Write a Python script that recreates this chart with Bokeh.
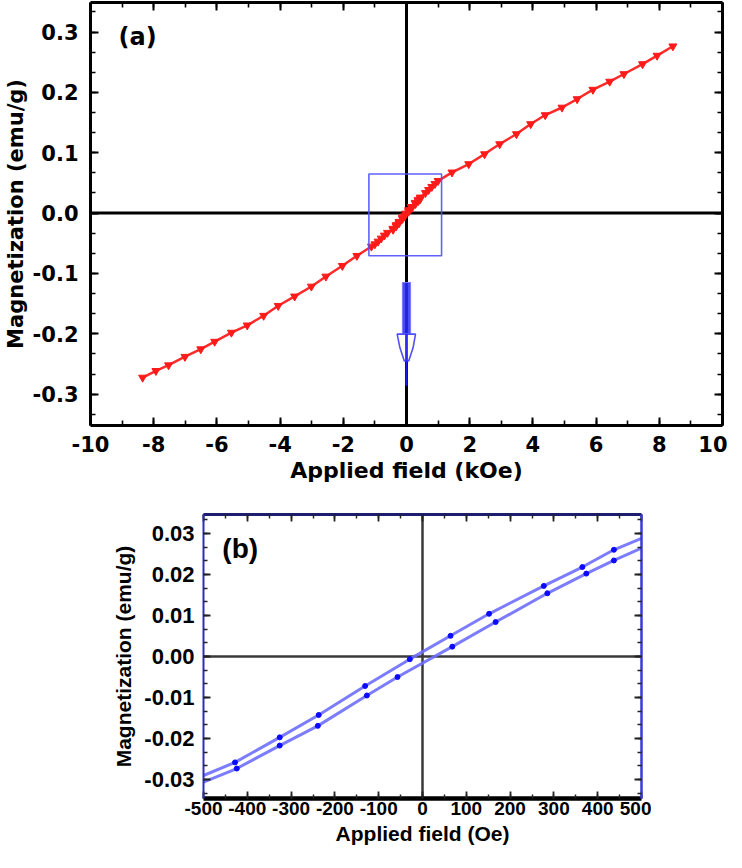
from bokeh.plotting import figure
from bokeh.models import (LinearAxis, FixedTicker, PrintfTickFormatter, Span,
                          BoxAnnotation, PolyAnnotation, Range1d, Label, Spacer)
from bokeh.layouts import column, row
from bokeh.embed import file_html
from bokeh.resources import INLINE

# ---------------- data: panel (a), field in kOe, magnetization in emu/g ----------------
H_a_neg = [-8.35, -7.93, -7.53, -7.01, -6.51, -6.07, -5.54, -5.04, -4.52, -4.06,
           -3.54, -3.01, -2.55, -2.03, -1.57, -1.11]
M_a_neg = [-0.2725, -0.2614, -0.2520, -0.2380, -0.2255, -0.2130, -0.1980, -0.1860,
           -0.1700, -0.1536, -0.1380, -0.1216, -0.1050, -0.0873, -0.0707, -0.0553]
H_a_pos = [1.44, 1.97, 2.47, 2.95, 3.48, 3.93, 4.39, 4.92, 5.40, 5.90, 6.43, 6.88,
           7.47, 7.93, 8.43]
M_a_pos = [0.0675, 0.0813, 0.0978, 0.1144, 0.1310, 0.1476, 0.1625, 0.1750, 0.1890,
           0.2046, 0.2180, 0.2305, 0.2470, 0.2610, 0.2765]
H_a_mid = [-1.0, -0.9, -0.8, -0.7, -0.6, 0.6, 0.7, 0.8, 0.9, 1.0]
M_a_mid = [-0.0515, -0.0470, -0.0420, -0.0370, -0.0325, 0.0335, 0.0385, 0.0435,
           0.0485, 0.0535]

# ---------------- data: panel (b), field in Oe ----------------
H_b_upper = [-500, -428, -326, -237, -131, -29, 64, 152, 277, 365, 437, 500]
M_b_upper = [-0.0290, -0.0258, -0.0197, -0.01425, -0.0072, -0.00065, 0.00504,
             0.0104, 0.0172, 0.0218, 0.0260, 0.0288]
H_b_lower = [-500, -424, -326, -239, -127, -57, 68, 167, 285, 374, 437, 500]
M_b_lower = [-0.0306, -0.0273, -0.0217, -0.0169, -0.0095, -0.0050, 0.0024, 0.0084,
             0.0154, 0.0202, 0.0234, 0.0264]

# ---------------- ticks ----------------
X_TICKS_A = [-10, -8, -6, -4, -2, 0, 2, 4, 6, 8, 10]
X_MINOR_A = list(range(-10, 11))
Y_TICKS_A = [-0.3, -0.2, -0.1, 0.0, 0.1, 0.2, 0.3]
Y_MINOR_A = [k * 0.1 / 3 for k in range(-10, 11)]
X_TICKS_B = [-500, -400, -300, -200, -100, 0, 100, 200, 300, 400, 500]
X_MINOR_B = list(range(-500, 501, 50))
Y_TICKS_B = [-0.03, -0.02, -0.01, 0.0, 0.01, 0.02, 0.03]
Y_MINOR_B = [k * 0.01 / 3 for k in range(-10, 11)]

# combine panel (a) points (inner loop points shown in kOe)
inner_H = [h / 1000.0 for h in H_b_upper[1:-1] + H_b_lower[1:-1]] + H_a_mid
inner_M = M_b_upper[1:-1] + M_b_lower[1:-1] + M_a_mid
pairs = sorted(zip(H_a_neg + inner_H + H_a_pos, M_a_neg + inner_M + M_a_pos))
H_a = [p_[0] for p_ in pairs]
M_a = [p_[1] for p_ in pairs]


def style_axis(ax, font, size, line_color, line_width, major_in, minor_in,
               standoff, tick_color="black", tick_width=2.0, hide_labels=False):
    ax.axis_line_color = line_color
    ax.axis_line_width = line_width
    ax.major_tick_in = major_in
    ax.major_tick_out = 0
    ax.minor_tick_in = minor_in
    ax.minor_tick_out = 0
    ax.major_tick_line_color = tick_color
    ax.minor_tick_line_color = tick_color
    ax.major_tick_line_width = tick_width
    ax.minor_tick_line_width = tick_width * 0.8
    ax.major_label_text_font = font
    ax.major_label_text_font_style = "bold"
    if hide_labels:
        ax.major_label_text_font_size = "1px"
        ax.major_label_text_color = None
        ax.major_label_standoff = 0
    else:
        ax.major_label_text_font_size = size
        ax.major_label_text_color = "black"
        ax.major_label_standoff = standoff


# ======================= panel (a) =======================
FA = "DejaVu Sans"
p1 = figure(frame_width=632, frame_height=423,
            x_range=Range1d(-10, 10), y_range=Range1d(-0.352, 0.349),
            output_backend="svg", toolbar_location=None,
            min_border_left=87, min_border_right=5, min_border_top=2,
            min_border_bottom=66, x_axis_label="Applied field (kOe)",
            y_axis_label="Magnetization (emu/g)")
p1.xgrid.visible = False
p1.ygrid.visible = False
p1.outline_line_color = None

xt_a = FixedTicker(ticks=X_TICKS_A, minor_ticks=X_MINOR_A)
yt_a = FixedTicker(ticks=Y_TICKS_A, minor_ticks=Y_MINOR_A)
p1.xaxis.ticker = xt_a
p1.yaxis.ticker = yt_a
p1.xaxis.formatter = PrintfTickFormatter(format="%d")
p1.yaxis.formatter = PrintfTickFormatter(format="%.1f")
style_axis(p1.xaxis[0], FA, "21px", "black", 3, 8, 5, 10)
style_axis(p1.yaxis[0], FA, "21px", "black", 3, 8, 5, 12)
for ax in (p1.xaxis[0], p1.yaxis[0]):
    ax.axis_label_text_font = FA
    ax.axis_label_text_font_style = "bold"
    ax.axis_label_text_color = "black"
p1.xaxis.axis_label_text_font_size = "22px"
p1.xaxis.axis_label_standoff = 3
p1.yaxis.axis_label_text_font_size = "21px"
p1.yaxis.axis_label_standoff = 2

top_a = LinearAxis(ticker=xt_a)
right_a = LinearAxis(ticker=yt_a)
style_axis(top_a, FA, "0px", "black", 3, 8, 5, 0, hide_labels=True)
style_axis(right_a, FA, "0px", "black", 3, 8, 5, 0, hide_labels=True)
p1.add_layout(top_a, "above")
p1.add_layout(right_a, "right")

p1.add_layout(Span(location=0, dimension="height", line_color="black",
                   line_width=3, level="underlay"))
p1.add_layout(Span(location=0, dimension="width", line_color="black",
                   line_width=3, level="underlay"))

p1.line(H_a, M_a, line_color="#ff2a2a", line_width=2.5)
p1.scatter(H_a, M_a, marker="inverted_triangle", size=8,
           fill_color="#ff1a1a", line_color="#ff1a1a")

# zoom box and arrow (annotations)
BOX = dict(left=-1.19, right=1.11, bottom=-0.0707, top=0.0647)
p1.add_layout(BoxAnnotation(**BOX, fill_alpha=0, fill_color=None,
                            line_color="#5050ff", line_alpha=0.9, line_width=1.6))
SHAFT = dict(left=-0.13, right=0.13, bottom=-0.2005, top=-0.115)
p1.add_layout(BoxAnnotation(**SHAFT, fill_color="#2a2aff", fill_alpha=0.85,
                            line_color="#7a7aff", line_alpha=1, line_width=1))
HEAD_X = [-0.295, 0.285, 0.21, 0.07, -0.07, -0.21]
HEAD_Y = [-0.2005, -0.2005, -0.2228, -0.245, -0.245, -0.2228]
p1.add_layout(PolyAnnotation(xs=HEAD_X, ys=HEAD_Y, fill_color="#fffbe0",
                             fill_alpha=0.5, line_color="#5050ff", line_alpha=1,
                             line_width=1.6))
TAIL = dict(left=-0.035, right=0.035, bottom=-0.286, top=-0.2005)
p1.add_layout(BoxAnnotation(**TAIL, fill_color="#2020ff", fill_alpha=0.9,
                            line_color=None))

p1.add_layout(Label(x=-9.11, y=0.291, text="(a)", text_font=FA,
                    text_font_style="bold", text_font_size="24px",
                    text_baseline="middle", text_color="black"))

# ======================= panel (b) =======================
FB = "Liberation Sans"
p2 = figure(frame_width=438, frame_height=284,
            x_range=Range1d(-500, 500), y_range=Range1d(-0.0346, 0.0346),
            output_backend="svg", toolbar_location=None,
            min_border_left=87, min_border_right=10, min_border_top=23,
            min_border_bottom=52, x_axis_label="Applied field (Oe)",
            y_axis_label="Magnetization (emu/g)")
p2.xgrid.visible = False
p2.ygrid.visible = False
p2.outline_line_color = None

xt_b = FixedTicker(ticks=X_TICKS_B, minor_ticks=X_MINOR_B)
yt_b = FixedTicker(ticks=Y_TICKS_B, minor_ticks=Y_MINOR_B)
p2.xaxis.ticker = xt_b
p2.yaxis.ticker = yt_b
p2.xaxis.formatter = PrintfTickFormatter(format="%d")
p2.yaxis.formatter = PrintfTickFormatter(format="%.2f")
style_axis(p2.xaxis[0], FB, "19px", "black", 4.5, 7, 4, 3,
           tick_color="#222222", tick_width=1.8)
style_axis(p2.yaxis[0], FB, "22px", "#2e2eb8", 2, 7, 4, 9,
           tick_color="#222222", tick_width=1.8)
for ax in (p2.xaxis[0], p2.yaxis[0]):
    ax.axis_label_text_font = FB
    ax.axis_label_text_font_style = "bold"
    ax.axis_label_text_color = "black"
    ax.axis_label_text_font_size = "21px"
p2.xaxis.axis_label_standoff = 4
p2.yaxis.axis_label_standoff = 6

top_b = LinearAxis(ticker=xt_b)
right_b = LinearAxis(ticker=yt_b)
style_axis(top_b, FB, "0px", "#1e1e70", 3, 7, 4, 0,
           tick_color="#222222", tick_width=1.8, hide_labels=True)
style_axis(right_b, FB, "0px", "#3a3ad6", 2.5, 7, 4, 0,
           tick_color="#222222", tick_width=1.8, hide_labels=True)
p2.add_layout(top_b, "above")
p2.add_layout(right_b, "right")

p2.add_layout(Span(location=0, dimension="height", line_color="#3a3a3a",
                   line_width=2.5, level="underlay"))
p2.add_layout(Span(location=0, dimension="width", line_color="#3a3a3a",
                   line_width=2.5, level="underlay"))

for H, M in ((H_b_upper, M_b_upper), (H_b_lower, M_b_lower)):
    p2.line(H, M, line_color="#6e6eff", line_width=3, line_alpha=0.9)
    p2.scatter(H[1:-1], M[1:-1], marker="circle", size=5,
               fill_color="#0a0aff", line_color="#0a0aff")

p2.add_layout(Label(x=-457, y=0.0263, text="(b)", text_font=FB,
                    text_font_style="bold", text_font_size="28px",
                    text_baseline="middle", text_color="black"))

layout = column(p1, row(Spacer(width=109, height=10), p2, spacing=0), spacing=0)
open("out.html", "w").write(file_html(layout, INLINE))
